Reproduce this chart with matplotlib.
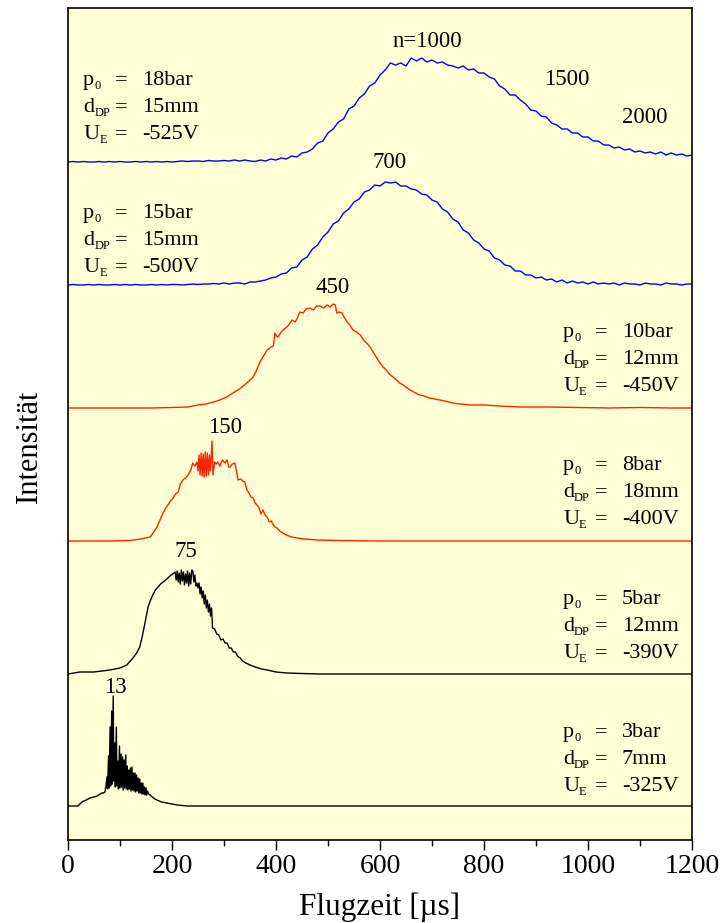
import matplotlib.pyplot as plt
import numpy as np

plt.rcParams["font.family"] = ["Liberation Serif", "DejaVu Serif"]

BG = "#FFFFD5"
BLUE = "#0000FF"
RED = "#FF2200"

# Flugzeitspektren, Intensitaet in willkuerlichen Einheiten (ueber der Grundlinie)
t_1000 = np.arange(0, 1201, 10)
h_1000 = [0, 0.5, 0, 0.5, 0, 0, 0.5, 0, 0.5, 0, 0.5, 0, 0, 0.5, 0, 0.5, 0, 0.5, 0, 0.5,
          0, 0.5, 1, 0.5, 1, 1, 0.5, 1.5, 1, 1, 1.5, 1, 2, 1, 2,
          1, 0.5, 2, 1, 3, 2, 4, 3, 6, 5,
          9, 10, 13, 19, 21, 29, 33, 40, 43, 53,
          56, 64, 68, 76, 79, 87, 92, 99, 97, 99,
          96, 104, 101, 104, 100, 102, 99, 100, 97, 96,
          94, 96, 92, 93, 89, 89, 85, 83, 76, 73,
          67, 67, 62, 58, 52, 51, 46, 45, 39, 37,
          33, 33, 29, 29, 25, 25, 21, 21, 17, 17,
          14, 15, 12, 13, 10, 11, 9, 10, 8, 10,
          7, 9, 7, 8, 6, 7]

t_700 = np.arange(0, 1201, 10)
h_700 = [0, 0.5, 0, 0, 0.5, 0, 0.5, 0, 0, 0.5, 0, 0.5, 0, 0.5, 0, 0, 0.5, 0, 0.5, 0,
         0.5, 0.5, 0, 0.5, 1, 0.5, 1, 1, 1.5, 1, 2, 1, 2,
         2, 1, 3, 3, 4, 5, 7, 8, 11, 12,
         17, 18, 25, 28, 36, 40, 48, 53, 61, 64,
         72, 76, 83, 86, 93, 95, 100, 99, 103, 102,
         103, 99, 99, 96, 95, 91, 90, 85, 83, 76,
         73, 66, 63, 55, 52, 45, 42, 36, 34, 27,
         25, 20, 19, 14, 14, 10, 10, 7, 8, 5,
         6, 3, 5, 2, 4, 2, 3, 1, 3, 1,
         2, 1, 2, 0, 2, 1, 1, 0, 2, 1,
         1, 0, 2, 1, 1, 0, 1, 1]

t_450 = [0, 40, 80, 120, 160, 200, 230, 250, 265, 280, 292, 305, 317, 330, 344,
         356, 362, 369, 376, 383, 390, 395, 398, 401, 404, 410, 416, 421, 426,
         431, 437, 441, 446, 452, 458, 465, 472, 478, 485, 492, 498, 504, 510,
         514, 517, 522, 527, 532, 537, 542, 548, 555, 562, 570, 576, 581, 588,
         594, 600, 606, 612, 618, 625, 632, 638, 645, 652, 658, 665, 672, 677,
         685, 695, 705, 715, 725, 740, 755, 773, 800, 830, 869, 920, 980, 1040,
         1100, 1160, 1200]
h_450 = [0, 0, 0, 0, 0, 0.5, 1, 3, 4, 6, 8, 11, 15, 19, 25,
         31, 37, 46, 52, 58, 61, 62, 75, 72, 71, 76, 79, 81, 84,
         88, 86, 90, 96, 95, 99, 100, 98, 102, 102, 100, 103, 101, 104,
         103, 95, 96, 95, 90, 86, 83, 78, 76, 73, 67, 64, 61, 55,
         50, 45, 41, 38, 34, 31, 28, 25, 23, 20, 18, 16, 14, 13,
         12, 10, 9, 8, 7, 5, 4, 3, 3, 2, 1, 1, 0.5, 0,
         0.5, 0, 0]

t_150 = [0, 40, 80, 119, 140, 158, 165, 171, 177, 183, 188, 192, 197, 202, 207,
         212, 216, 221, 226, 231, 236, 240, 244, 248, 250, 252, 254, 256, 258,
         260, 262, 264, 266, 268, 270, 272, 274, 277, 279, 282, 285, 288, 292,
         297, 302, 306, 309, 312, 316, 321, 324, 327, 332, 336, 340, 344, 348,
         352, 356, 360, 363, 367, 371, 375, 379, 383, 387, 391, 394, 398, 402,
         407, 413, 420, 430, 440, 455, 479, 520, 600, 700, 800, 900, 1000,
         1100, 1200]
h_150 = [0, 0, 0, 0.5, 2, 4, 9, 14, 21, 28, 33, 36, 40, 43, 47,
         49, 57, 61, 63, 66, 71, 78, 75, 79, 70, 86, 66, 88, 65,
         87, 64, 89, 65, 88, 66, 86, 70, 100, 66, 79, 77, 79, 75,
         81, 78, 81, 74, 74, 77, 78, 70, 61, 62, 60, 59, 51, 48,
         44, 43, 38, 36, 34, 27, 31, 26, 24, 19, 20, 17, 14, 13,
         10, 8, 6, 4, 3, 2, 1, 0.5, 0, 0, 0, 0, 0,
         0, 0]

t_75 = [0, 23, 50, 81, 100, 113, 125, 132, 138, 143, 148, 154, 158, 163, 168,
        173, 178, 183, 190, 196, 201, 206, 208, 210, 212, 214, 216, 218, 220,
        222, 224, 226, 228, 230, 232, 234, 236, 238, 240, 242, 244, 246, 248,
        250, 252, 254, 256, 258, 260, 262, 264, 266, 268, 270, 272, 274, 276,
        278, 282, 286, 290, 294, 298, 302, 306, 310, 314, 318, 322, 326, 331,
        336, 342, 350, 360, 372, 383, 400, 421, 450, 485, 600, 800, 1000, 1200]
h_75 = [0, 2, 2, 4, 6, 9, 16, 21, 27, 38, 51, 67, 73, 79, 84,
        87, 90, 92, 95, 98, 100, 102, 94, 103, 92, 101, 90, 104, 93,
        102, 89, 100, 91, 103, 88, 101, 90, 104, 103, 92, 99, 88, 91,
        86, 91, 80, 87, 76, 83, 70, 79, 66, 74, 62, 70, 58, 66,
        46, 45, 40, 39, 34, 35, 31, 31, 26, 26, 22, 22, 18, 16,
        13, 11, 9, 7, 5, 4, 2, 1, 0.5, 0, 0, 0, 0, 0]

t_13 = [0, 19, 27, 35, 42, 50, 56, 62, 65, 68, 71, 73, 75, 76, 78, 79, 81, 82,
        84, 85, 87, 88, 90, 91, 93, 94, 96, 97, 99, 100, 102, 103, 105, 106,
        108, 109, 111, 112, 114, 115, 117, 118, 120, 121, 123, 124, 126, 127,
        129, 130, 132, 133, 135, 136, 138, 139, 141, 142, 144, 145, 147, 148,
        150, 151, 153, 155, 158, 162, 167, 171, 180, 190, 200, 210, 220, 229,
        400, 700, 1000, 1200]
h_13 = [0, 0, 4, 6, 8, 9, 10, 12, 13, 13, 14, 20, 29, 17, 50, 18, 79, 20,
        95, 22, 110, 25, 63, 19, 79, 20, 45, 17, 60, 18, 52, 19, 49, 16,
        46, 18, 51, 17, 40, 16, 36, 17, 38, 15, 39, 16, 33, 15,
        33, 14, 31, 15, 28, 13, 27, 13, 23, 12, 23, 12, 19, 11,
        18, 11, 15, 12, 11, 9, 7, 6, 4, 3, 2, 1, 0.5, 0,
        0, 0, 0, 0]

# Grundlinien der gestapelten Spektren
baselines = [678, 555, 432, 299, 166, 34]
traces = [(t_1000, h_1000, BLUE), (t_700, h_700, BLUE), (t_450, h_450, RED),
          (t_150, h_150, RED), (t_75, h_75, "black"), (t_13, h_13, "black")]

# Clustergroessen an den Maxima: (Text, x [µs], y Grundlinie)
peak_labels = [("n=1000", 691, 793), ("1500", 960, 755), ("2000", 1109, 717),
               ("700", 619, 672), ("450", 508, 547), ("150", 302, 407),
               ("75", 227, 283), ("13", 92, 147)]

# Expansionsbedingungen: p0 [bar], d_DP [mm], U_E [V]
p0 = ["18", "15", "10", "8", "5", "3"]
d_dp = ["15", "15", "12", "18", "12", "7"]
u_e = ["-525", "-500", "-450", "-400", "-390", "-325"]
block_x = [29, 29, 952, 952, 952, 952]
block_y = [755, 622, 503, 370, 236, 103]

fig = plt.figure(figsize=(7.25, 9.23), dpi=100)
ax = fig.add_axes([68 / 725, 83 / 923, 624 / 725, 832 / 923])
ax.set_facecolor(BG)

for (t, h, c), base in zip(traces, baselines):
    ax.plot(t, base + np.asarray(h), color=c, lw=1.0)

for txt, x, y in peak_labels:
    ax.text(x, y, txt, fontsize=16.5, ha="center", va="baseline")

fs = 16
dy = 27


def symbol(x, y, base, sub, base_w):
    # Formelzeichen mit kleinem Index
    ax.text(x, y, base, fontsize=fs, ha="left", va="baseline")
    ax.annotate(sub, xy=(x, y), xytext=(base_w, -3), textcoords="offset points",
                fontsize=9, ha="left", va="baseline")


for i in range(len(p0)):
    x0, y0 = block_x[i], block_y[i]
    rows = [("p", "0", 8.0, p0[i] + "bar"),
            ("d", "DP", 8.0, d_dp[i] + "mm"),
            ("U", "E", 11.6, u_e[i] + "V")]
    for k, (b, sub, w, val) in enumerate(rows):
        y = y0 - k * dy
        symbol(x0, y, b, sub, w)
        ax.text(x0 + 73, y, "=", fontsize=fs, ha="center", va="baseline")
        ax.text(x0 + 113, y, val, fontsize=fs, ha="left", va="baseline")

ax.set_xlim(0, 1200)
ax.set_ylim(0, 832)
ax.set_yticks([])
ax.set_xticks(range(0, 1201, 200))
ax.set_xticks(range(100, 1200, 200), minor=True)
ax.tick_params(axis="x", which="major", direction="out", length=7, width=1.0,
               labelsize=20, pad=3)
ax.tick_params(axis="x", which="minor", direction="out", length=4, width=1.0)
for s in ax.spines.values():
    s.set_linewidth(1.2)

fig.text(0.5 * (68 + 692) / 725, 8 / 923, "Flugzeit [µs]", fontsize=22.5,
         ha="center", va="baseline")
fig.text(29 / 725, (923 - 446) / 923, "Intensität", fontsize=22,
         rotation=90, ha="center", va="center")

fig.savefig("out.png", dpi=100, facecolor="white")
